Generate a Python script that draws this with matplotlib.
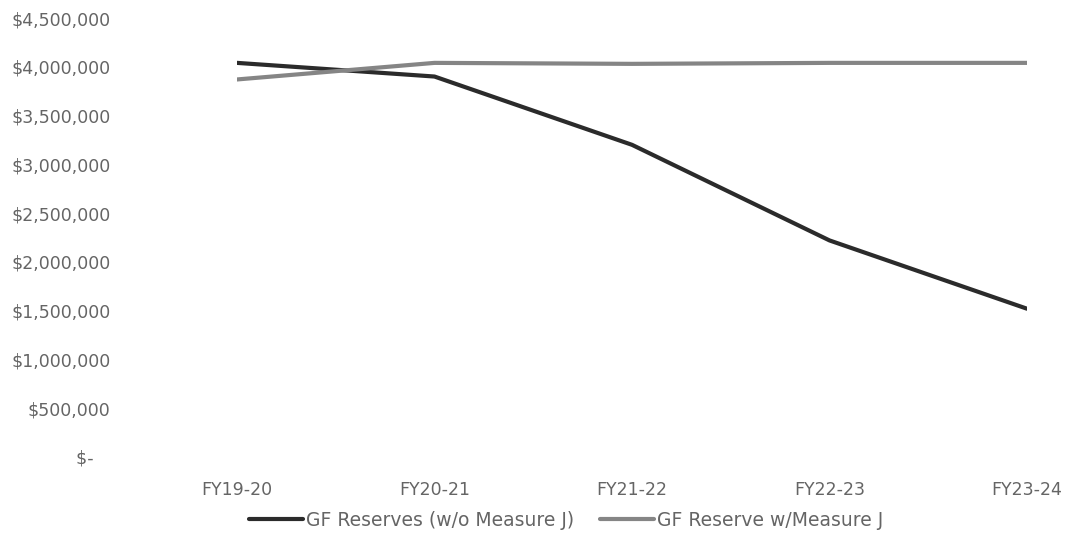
import matplotlib.pyplot as plt
import matplotlib.ticker as mticker

# fiscal years and general fund reserve balances
years = ['FY19-20', 'FY20-21', 'FY21-22', 'FY22-23', 'FY23-24']
reserves_without_j = [4040000, 3900000, 3200000, 2220000, 1520000]
reserves_with_j = [3870000, 4040000, 4030000, 4040000, 4040000]
y_ticks = [0, 500000, 1000000, 1500000, 2000000, 2500000, 3000000, 3500000, 4000000, 4500000]

plt.rcParams['font.family'] = ['DejaVu Sans']
text_color = '#656565'
fs = 12.5

fig = plt.figure(figsize=(10.68, 5.35), dpi=100)
ax = fig.add_axes([237 / 1068, 78 / 535, (1027 - 237) / 1068, (457 - 18) / 535])

x = range(len(years))
ax.plot(x, reserves_without_j, color='#2b2b2b', lw=3.0, solid_capstyle='round',
        label='GF Reserves (w/o Measure J)')
ax.plot(x, reserves_with_j, color='#858585', lw=3.0, solid_capstyle='round',
        label='GF Reserve w/Measure J')

ax.set_xlim(0, 4)
ax.set_ylim(0, 4500000)
ax.set_xticks(list(x))
ax.set_xticklabels(years)
ax.set_yticks(y_ticks)


def money(v, pos):
    if v == 0:
        return '$-   '
    return '${:,.0f}'.format(v)


ax.yaxis.set_major_formatter(mticker.FuncFormatter(money))

for s in ax.spines.values():
    s.set_visible(False)
ax.tick_params(axis='y', length=0, pad=91, labelsize=fs, labelcolor=text_color)
ax.tick_params(axis='x', length=0, pad=17, labelsize=fs, labelcolor=text_color)

fig.legend(loc='center', bbox_to_anchor=(566 / 1068, 1 - 520 / 535), ncol=2,
           frameon=False, fontsize=13.5, handlelength=2.9, handletextpad=0.15,
           columnspacing=1.4, labelcolor=text_color)

fig.savefig('out.png', dpi=100)
